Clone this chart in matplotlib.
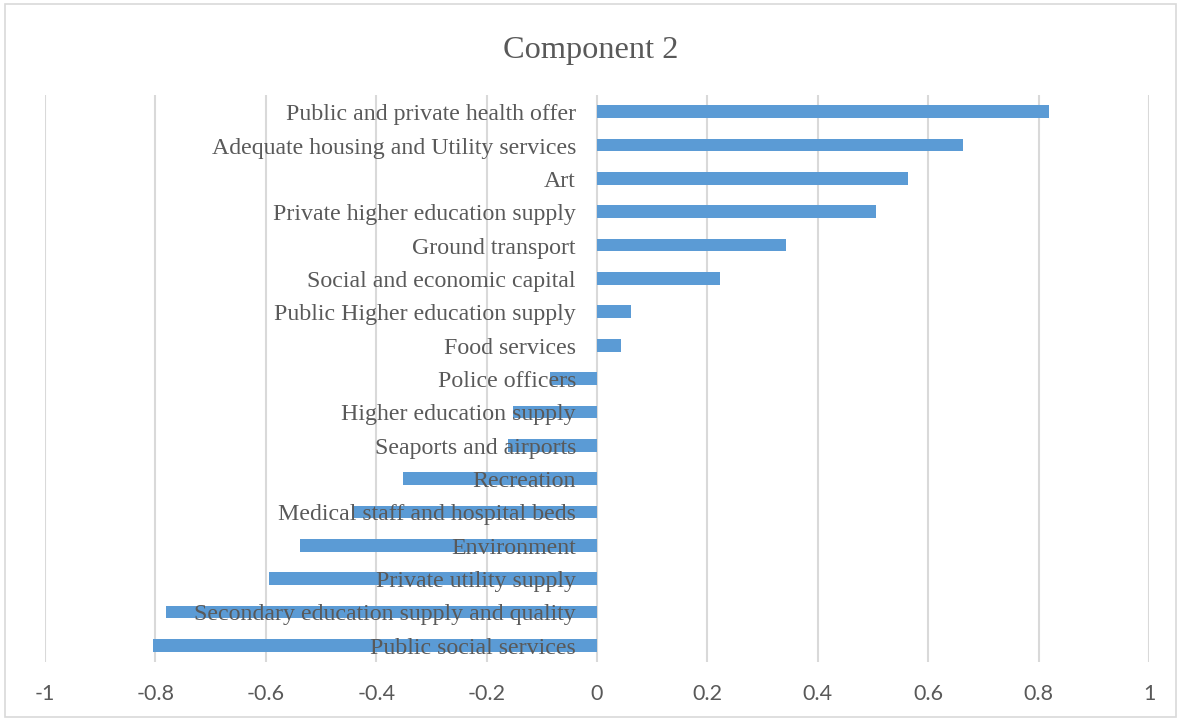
import matplotlib.pyplot as plt
from matplotlib.patches import Rectangle

labels = ["Public and private health offer", "Adequate housing and Utility services", "Art",
          "Private higher education supply", "Ground transport", "Social and economic capital",
          "Public Higher education supply", "Food services", "Police officers",
          "Higher education supply", "Seaports and airports", "Recreation",
          "Medical staff and hospital beds", "Environment", "Private utility supply",
          "Secondary education supply and quality", "Public social services"]
values = [0.819, 0.663, 0.563, 0.505, 0.342, 0.223, 0.062, 0.043, -0.085,
          -0.152, -0.161, -0.351, -0.444, -0.538, -0.594, -0.781, -0.804]
ticks = [-1, -0.8, -0.6, -0.4, -0.2, 0, 0.2, 0.4, 0.6, 0.8, 1]

text_col = "#595959"
fig = plt.figure(figsize=(11.81, 7.21), dpi=100)
fig.patches.append(Rectangle((0.004, 0.006), 0.992, 0.988, transform=fig.transFigure,
                             fill=False, edgecolor="#d9d9d9", lw=1.2))
ax = fig.add_axes([0.0381, 0.0818, 0.9348, 0.7864])

ypos = list(range(len(values)))
ax.barh(ypos, values, height=0.38, color="#5b9bd5", zorder=2)
ax.set_ylim(len(values) - 0.5, -0.5)
ax.set_xlim(-1, 1)
ax.set_xticks(ticks)
ax.set_xticklabels([f"{t:g}" for t in ticks], fontfamily="Lato", fontsize=15.5, color=text_col)
ax.tick_params(axis="x", length=0, pad=16)
ax.set_yticks([])
for t in ticks:
    ax.axvline(t, color="#d9d9d9", lw=1.5, zorder=1)
for s in ax.spines.values():
    s.set_visible(False)

for y, lab in zip(ypos, labels):
    ax.annotate(lab, (0, y), xytext=(-21, -3), textcoords="offset pixels",
                ha="right", va="center", fontfamily="Liberation Serif", fontsize=17.2,
                color=text_col, zorder=3)

fig.text(0.5, 0.93, "Component 2", ha="center", va="center",
         fontfamily="Liberation Serif", fontsize=23.3, color=text_col)

fig.savefig("out.png", dpi=100)
